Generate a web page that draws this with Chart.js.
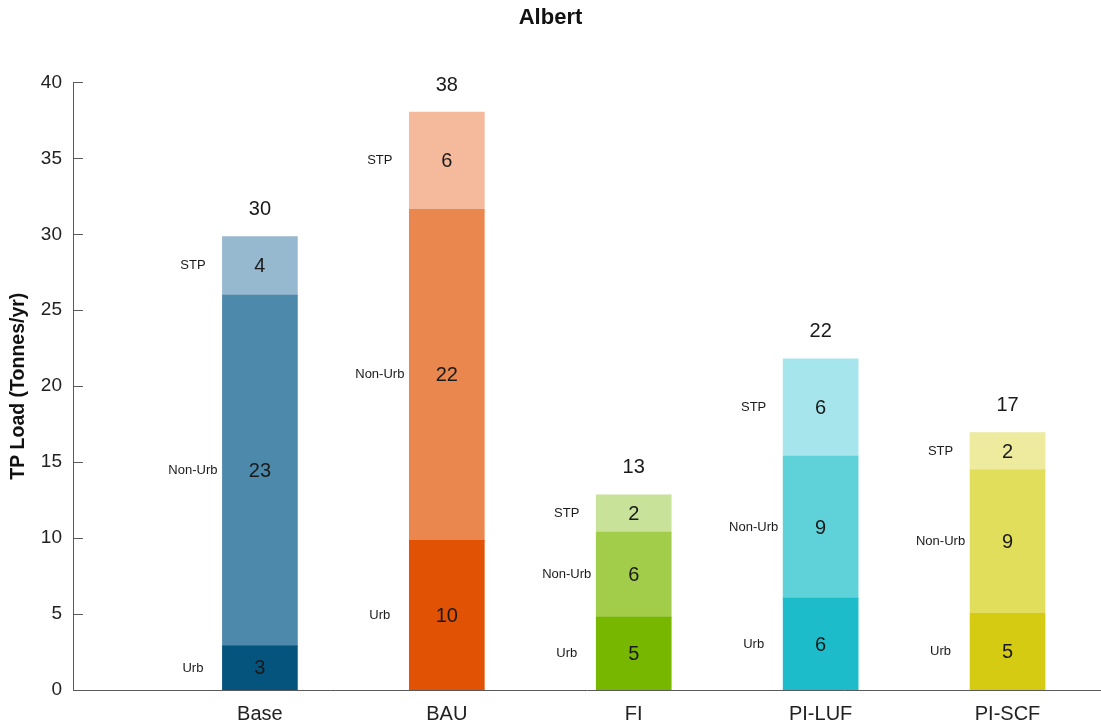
<!DOCTYPE html>
<html>
<head>
<meta charset="utf-8">
<script src="https://cdn.jsdelivr.net/npm/chart.js@4.4.0/dist/chart.umd.min.js"></script>
<style>
  html,body{margin:0;padding:0;background:#fff;}
  #wrap{width:1101px;height:727px;}
</style>
</head>
<body>
<div id="wrap"><canvas id="c" width="1101" height="727"></canvas></div>
<script>
const categories = ['Base', 'BAU', 'FI', 'PI-LUF', 'PI-SCF'];
const segmentNames = ['Urb', 'Non-Urb', 'STP'];
const urbValues    = [2.9, 9.85, 4.8, 6.05, 5.05];
const nonUrbValues = [23.1, 21.8, 5.6, 9.35, 9.45];
const stpValues    = [3.85, 6.4, 2.45, 6.4, 2.45];
const yTicks = [0, 5, 10, 15, 20, 25, 30, 35, 40];

const urbColors    = ['#04547e', '#e15205', '#78b700', '#1dbccb', '#d5cb13'];
const nonUrbColors = ['#4c89aa', '#e9874f', '#a2cd4b', '#5fd1d9', '#e1de5c'];
const stpColors    = ['#97b9cf', '#f4ba9b', '#c9e29a', '#a5e5eb', '#eeea9e'];

const toPts = arr => arr.map((v, i) => ({x: i + 1, y: v}));
const FONT = '"Liberation Sans", Arial, sans-serif';

const labelPlugin = {
  id: 'labels',
  afterDatasetsDraw(chart) {
    const ctx = chart.ctx;
    ctx.save();
    ctx.textBaseline = 'middle';
    ctx.textAlign = 'center';
    const n = chart.data.datasets.length;
    chart.data.datasets.forEach((ds, di) => {
      const meta = chart.getDatasetMeta(di);
      meta.data.forEach((el, i) => {
        const p = el.getProps(['x', 'y', 'base', 'width'], true);
        const mid = (p.y + p.base) / 2;
        ctx.fillStyle = '#1a1a1a';
        ctx.font = '20px ' + FONT;
        ctx.fillText(String(Math.round(ds.data[i].y)), p.x, mid + 1);
        ctx.font = '13px ' + FONT;
        ctx.fillText(ds.label, p.x - 67, mid);
        if (di === n - 1) {
          let total = 0;
          chart.data.datasets.forEach(d => total += d.data[i].y);
          ctx.font = '20px ' + FONT;
          ctx.fillText(String(Math.round(total)), p.x, p.y - 27);
        }
      });
    });
    ctx.restore();
  }
};

const tickPlugin = {
  id: 'inTicks',
  afterDraw(chart) {
    const s = chart.scales.y;
    const ctx = chart.ctx;
    ctx.save();
    ctx.strokeStyle = '#5a5a5a';
    ctx.lineWidth = 1;
    s.ticks.forEach(t => {
      const y = Math.round(s.getPixelForValue(t.value)) + 0.5;
      ctx.beginPath();
      ctx.moveTo(s.right, y);
      ctx.lineTo(s.right + 10, y);
      ctx.stroke();
    });
    ctx.restore();
  }
};

new Chart(document.getElementById('c'), {
  type: 'bar',
  data: {
    datasets: [
      {label: segmentNames[0], data: toPts(urbValues), backgroundColor: urbColors},
      {label: segmentNames[1], data: toPts(nonUrbValues), backgroundColor: nonUrbColors},
      {label: segmentNames[2], data: toPts(stpValues), backgroundColor: stpColors}
    ]
  },
  options: {
    responsive: false,
    animation: false,
    layout: {padding: 0},
    datasets: {bar: {barThickness: 75, grouped: false, borderWidth: 0}},
    plugins: {
      legend: {display: false},
      tooltip: {enabled: false},
      title: {
        display: true,
        text: 'Albert',
        color: '#111',
        font: {family: FONT, size: 22, weight: 'bold'},
        padding: {top: 5, bottom: 51}
      }
    },
    scales: {
      x: {
        type: 'linear',
        offset: false,
        min: 0,
        max: 5.5,
        grid: {display: false, drawTicks: false, offset: false},
        border: {display: true, color: '#5a5a5a', width: 1},
        afterBuildTicks: s => { s.ticks = categories.map((c, i) => ({value: i + 1})); },
        afterFit: s => { s.height = 37; },
        ticks: {
          padding: 12,
          color: '#222',
          font: {family: FONT, size: 20},
          callback: v => categories[Math.round(v) - 1] || ''
        }
      },
      y: {
        stacked: true,
        min: 0,
        max: 40,
        grid: {display: false, drawTicks: false},
        border: {display: true, color: '#5a5a5a', width: 1},
        afterBuildTicks: s => { s.ticks = yTicks.map(v => ({value: v})); },
        afterFit: s => { s.width = 73; },
        ticks: {
          padding: 11,
          color: '#222',
          font: {family: FONT, size: 19}
        },
        title: {
          display: true,
          text: 'TP Load (Tonnes/yr)',
          color: '#111',
          font: {family: FONT, size: 19.5, weight: 'bold'},
          padding: {top: 7, bottom: 0}
        }
      }
    }
  },
  plugins: [labelPlugin, tickPlugin]
});
</script>
</body>
</html>
